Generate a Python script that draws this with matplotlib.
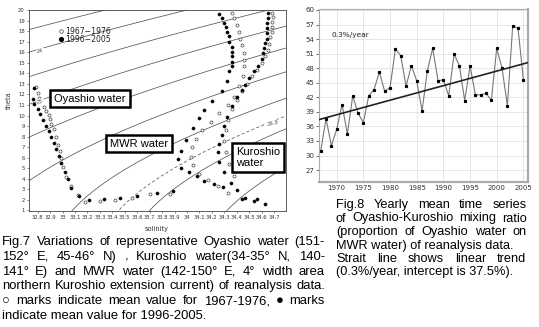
import numpy as np
import matplotlib
matplotlib.use("Agg")
import matplotlib.pyplot as plt

W, H = 539, 327
CAP = ['Liberation Sans', 'DejaVu Sans']

# ---- Fig.7 data (salinity, theta) ----
oya_new_s = [32.77, 32.76, 32.77, 32.80, 32.82, 32.84, 32.87, 32.89, 32.91, 32.93, 32.95, 32.97,
             32.99, 33.02, 33.04, 33.07, 33.13, 33.21, 33.33, 33.46, 33.60, 33.76, 33.89]
oya_new_t = [12.6, 11.6, 11.05, 10.6, 10.1, 9.6, 9.05, 8.5, 8.0, 7.4, 6.8, 6.2,
             5.5, 4.65, 3.95, 3.1, 2.4, 2.0, 2.05, 2.2, 2.4, 2.7, 2.8]
oya_old_s = [32.79, 32.80, 32.81, 32.83, 32.85, 32.87, 32.89, 32.90, 32.91, 32.93, 32.95, 32.96,
             32.98, 32.99, 33.00, 33.03, 33.07, 33.12, 33.18, 33.30, 33.42, 33.56, 33.70, 33.86]
oya_old_t = [12.7, 12.1, 11.7, 11.35, 10.8, 10.4, 10.05, 9.7, 9.15, 8.7, 8.0, 7.2,
             6.6, 6.0, 5.1, 4.2, 3.3, 2.5, 1.85, 1.9, 1.95, 2.15, 2.55, 2.6]
mwr_new_s = [34.26, 34.28, 34.30, 34.31, 34.32, 34.34, 34.34, 34.36, 34.36, 34.36, 34.36, 34.36,
             34.34, 34.32, 34.28, 34.20, 34.14, 34.10, 34.05, 33.99, 33.95, 33.93, 33.95, 34.02,
             34.08, 34.14, 34.22, 34.29]
mwr_new_t = [19.6, 19.2, 18.8, 18.4, 17.95, 17.5, 17.0, 16.5, 16.05, 15.6, 15.1, 14.65,
             14.2, 13.3, 12.3, 11.35, 10.55, 9.8, 8.85, 7.65, 6.6, 5.85, 5.05, 4.6,
             4.3, 3.8, 3.55, 3.2]
mwr_old_s = [34.36, 34.38, 34.40, 34.42, 34.43, 34.44, 34.46, 34.46, 34.46, 34.45, 34.42, 34.38,
             34.33, 34.26, 34.19, 34.12, 34.07, 34.04, 34.03, 34.05, 34.10, 34.17, 34.25, 34.33]
mwr_old_t = [19.7, 19.2, 18.6, 17.95, 17.3, 16.7, 15.9, 15.3, 14.65, 13.7, 12.8, 11.8,
             11.0, 10.2, 9.4, 8.6, 7.8, 7.0, 6.1, 5.3, 4.5, 3.9, 3.3, 2.7]
kur_new_s = [34.65, 34.65, 34.64, 34.64, 34.64, 34.64, 34.63, 34.62, 34.61, 34.60, 34.57, 34.54,
             34.50, 34.47, 34.44, 34.40, 34.36, 34.32, 34.30, 34.28, 34.26, 34.25, 34.26, 34.30,
             34.35, 34.40, 34.44, 34.47, 34.54, 34.56, 34.63]
kur_new_t = [19.7, 19.2, 18.8, 18.3, 17.8, 17.3, 16.85, 16.4, 15.9, 15.35, 14.7, 14.2,
             13.6, 12.9, 12.4, 11.8, 10.9, 9.9, 9.0, 8.2, 7.3, 6.5, 5.6, 4.6,
             3.65, 2.95, 2.1, 2.2, 1.9, 2.05, 1.6]
kur_old_s = [34.68, 34.69, 34.68, 34.68, 34.68, 34.67, 34.66, 34.65, 34.63, 34.60, 34.56, 34.52,
             34.48, 34.44, 34.40, 34.36, 34.33, 34.31, 34.30, 34.31, 34.34, 34.38]
kur_old_t = [19.7, 19.3, 18.9, 18.4, 17.9, 17.4, 16.8, 16.2, 15.6, 15.0, 14.3, 13.7,
             13.0, 12.3, 11.5, 10.6, 9.6, 8.6, 7.6, 6.5, 5.4, 4.3]

sig_levels = [23.5, 24.0, 24.5, 25.0, 25.5, 26.0, 26.5, 27.0, 27.5]
sig_dashed = [26.8]
sal_ticks = [32.8, 32.9, 33.0, 33.1, 33.2, 33.3, 33.4, 33.5, 33.6, 33.7, 33.8, 33.9,
             34.0, 34.1, 34.2, 34.3, 34.4, 34.5, 34.6, 34.7]
sal_labels = ['32.8', '32.9', '33', '33.1', '33.2', '33.3', '33.4', '33.5', '33.6', '33.7',
              '33.8', '33.9', '34', '34.1', '34.2', '34.3', '34.4', '34.5', '34.6', '34.7']

# ---- Fig.8 data ----
years = list(range(1967, 2006))
ratio = [31.0, 37.6, 32.0, 35.4, 40.5, 34.4, 42.3, 38.7, 36.8, 42.3, 43.6, 47.2, 43.2,
         44.0, 51.9, 50.6, 44.3, 48.5, 45.4, 39.2, 47.5, 52.1, 45.4, 45.6, 42.3, 50.9,
         48.5, 41.3, 48.5, 42.5, 42.5, 42.8, 41.4, 52.1, 48.0, 40.3, 56.8, 56.2, 45.6]
trend_slope = 0.3
trend_icpt = 37.5


def sigma_t(s, t):
    rw = (999.842594 + 6.793952e-2 * t - 9.095290e-3 * t**2 + 1.001685e-4 * t**3
          - 1.120083e-6 * t**4 + 6.536332e-9 * t**5)
    a = 0.824493 - 4.0899e-3 * t + 7.6438e-5 * t**2 - 8.2467e-7 * t**3 + 5.3875e-9 * t**4
    b = -5.72466e-3 + 1.0227e-4 * t - 1.6546e-6 * t**2
    return rw + a * s + b * s**1.5 + 4.8314e-4 * s**2 - 1000.0


def px_box(x0, y0, x1, y1):
    return [x0 / W, 1 - y1 / H, (x1 - x0) / W, (y1 - y0) / H]


fig = plt.figure(figsize=(W / 100, H / 100), dpi=100)

# ---------- left: T-S diagram ----------
ax = fig.add_axes(px_box(29, 9.5, 286, 211))
S, T = np.meshgrid(np.linspace(32.6, 34.9, 300), np.linspace(0, 21, 300))
sig = sigma_t(S, T)
ax.contour(S, T, sig, levels=sig_levels, colors='#555555', linewidths=0.55)
ax.contour(S, T, sig, levels=sig_dashed, colors='#555555', linewidths=0.55,
           linestyles=[(0, (4, 3))])
for s, t, lab, rot in [(32.82, 16.15, '24', 8), (32.82, 11.3, '25', 10), (34.69, 9.25, '26.8', 12)]:
    ax.text(s, t, lab, fontsize=3.8, color='#555555', ha='center', va='center', rotation=rot,
            bbox=dict(facecolor='white', edgecolor='none', pad=0.3))

for s, t in [(oya_old_s, oya_old_t), (mwr_old_s, mwr_old_t), (kur_old_s, kur_old_t)]:
    ax.plot(s, t, 'o', ms=2.2, mfc='white', mec='#444444', mew=0.5, ls='none')
for s, t in [(oya_new_s, oya_new_t), (mwr_new_s, mwr_new_t), (kur_new_s, kur_new_t)]:
    ax.plot(s, t, 'o', ms=2.3, mfc='black', mec='black', mew=0.3, ls='none')

ax.set_xlim(32.73, 34.796)
ax.set_ylim(0.95, 20.05)
ax.set_xticks(sal_ticks)
ax.set_xticklabels(sal_labels)
ax.set_yticks(range(1, 21))
ax.tick_params(labelsize=3.8, length=1.5, width=0.4, pad=1.5, colors='#333333')
for sp in ax.spines.values():
    sp.set_linewidth(0.6)
    sp.set_color('#444444')
fig.text(9 / W, 1 - 100 / H, 'theta', rotation=90, fontsize=4.8, ha='center', va='center',
         color='#333333')
fig.text(157 / W, 1 - 229 / H, 'solinity', fontsize=4.8, ha='center', va='center', color='#333333')

# legend
ax.plot([32.985], [18.0], 'o', ms=2.6, mfc='white', mec='#444444', mew=0.5)
ax.plot([32.985], [17.25], 'o', ms=2.7, mfc='black', mec='black')
ax.text(33.02, 18.0, '1967\u22121976', fontsize=5.6, va='center', color='#222222')
ax.text(33.02, 17.25, '1996\u22122005', fontsize=5.6, va='center', color='#222222')

# water-mass labels
box = dict(facecolor='white', edgecolor='black', linewidth=1.8, boxstyle='square,pad=0.35')
fig.text(90 / W, 1 - 98.5 / H, 'Oyashio water', fontsize=8, family=CAP, ha='center',
         va='center', bbox=box)
fig.text(139 / W, 1 - 143.5 / H, 'MWR water', fontsize=8, family=CAP, ha='center',
         va='center', bbox=box)
fig.text(236 / W, 1 - 157.5 / H, 'Kuroshio\nwater', fontsize=8, family=CAP, ha='left',
         va='center', linespacing=1.1, bbox=box)

# ---------- right: time series ----------
bx = fig.add_axes(px_box(319, 9.3, 527.7, 181.7))
yr = np.array(years)
bx.plot(yr, ratio, '-', color='#777777', lw=0.8, zorder=3)
bx.plot(yr, ratio, 's', color='black', ms=1.3, zorder=4)
xl = np.array([1966.68, 2005.81])
bx.plot(xl, trend_icpt + trend_slope * (xl - 1967), color='#222222', lw=1.2, zorder=5)
bx.set_xlim(1966.68, 2005.81)
bx.set_ylim(24.6, 60.14)
bx.set_xticks(range(1970, 2006, 5))
bx.set_yticks(range(27, 61, 3))
bx.grid(True, color='#e2e2e2', lw=0.6)
bx.set_axisbelow(True)
bx.tick_params(axis='y', labelsize=5, length=2, width=0.5, pad=1.5, colors='#333333')
bx.tick_params(axis='x', labelsize=5, length=0, pad=2.5, colors='#333333')
for sp in bx.spines.values():
    sp.set_color('#aaaaaa')
    sp.set_linewidth(0.8)
bx.spines['right'].set_linewidth(1.6)
bx.spines['bottom'].set_linewidth(1.6)
bx.text(1969.1, 54.85, '0.3%/year', fontsize=5.3, color='#222222', va='center')


# ---------- captions ----------
def put_lines(lines, x0, x1, y_base, dy, size, justify):
    r = fig.canvas.get_renderer()
    for i, line in enumerate(lines):
        y = 1 - (y_base + i * dy) / H
        if not justify[i]:
            fig.text(x0 / W, y, line, fontsize=size, family=CAP, va='baseline')
            continue
        words = line.split()
        objs = [fig.text(0, y, w, fontsize=size, family=CAP, va='baseline') for w in words]
        widths = [t.get_window_extent(r).width for t in objs]
        gap = (x1 - x0 - sum(widths)) / (len(words) - 1)
        x = x0
        for t, w in zip(objs, widths):
            t.set_x(x / W)
            x += w + gap


cap7 = ['Fig.7  Variations of representative Oyashio water (151-',
        '152\u00b0  E, 45-46\u00b0  N) , Kuroshio water(34-35\u00b0  N, 140-',
        '141\u00b0  E) and MWR water (142-150\u00b0  E, 4\u00b0   width area',
        'northern Kuroshio extension current) of reanalysis data.',
        '\u25cb marks indicate mean value for 1967-1976, \u25cf marks',
        'indicate mean value for 1996-2005.']
put_lines(cap7, 2, 325, 245, 14.8, 9.4, [True, True, True, True, True, False])

cap8 = ['Fig.8  Yearly mean time series',
        'of Oyashio-Kuroshio mixing ratio',
        '(proportion of Oyashio water on',
        'MWR water) of reanalysis data.',
        'Strait line shows linear trend',
        '(0.3%/year, intercept is 37.5%).']
put_lines(cap8, 336, 526.5, 208, 13.5, 9.2, [True, True, True, False, True, False])

fig.savefig('out.png', dpi=100)
